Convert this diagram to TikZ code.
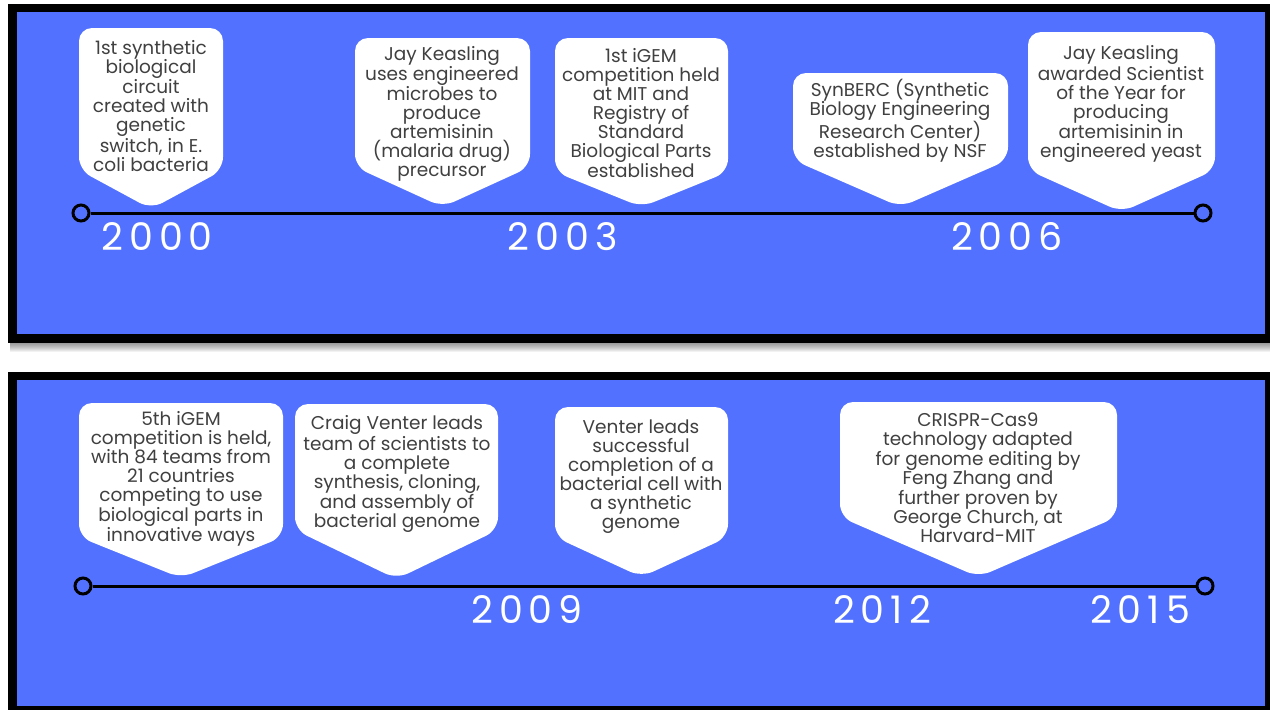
\documentclass[tikz,border=0pt]{standalone}
\usepackage{fontspec}
\setmainfont{Poppins}
\newfontfamily\yearfont{Poppins}[LetterSpace=16]
\definecolor{bg}{HTML}{5271FF}
\definecolor{txt}{HTML}{404040}
\newcommand\tlbubble[5]{%
  \fill[bubble] (#1,#3) -- (#2,#3) -- (#2,#4) -- ({(#1+#2)/2},#5) -- (#1,#4) -- cycle;}
\tikzset{
  panelborder/.style={fill=black},
  panelfill/.style={fill=bg},
  bubble/.style={fill=white, rounded corners=13pt},
  evtext/.style={text=txt, align=center, font=\fontsize{18.5}{19}\selectfont, inner sep=0pt},
  yearlabel/.style={text=white, font=\yearfont\fontsize{38}{38}\selectfont, inner sep=0pt},
  tline/.style={line width=3pt, draw=black},
  tend/.style={circle, draw=black, line width=3pt, fill=bg, minimum size=16pt, inner sep=0pt},
}
\begin{document}
\begin{tikzpicture}[x=1pt,y=-1pt]
\useasboundingbox (0,0) rectangle (1270,710);
\fill[white] (0,0) rectangle (1270,710);
% shadow under top panel
\foreach \i in {1,...,9} \fill[black, opacity=0.05] (10,343) rectangle (1270,343+\i);
% panels
\fill[panelborder] (8,4) rectangle (1272,343);
\fill[panelfill] (17,12) rectangle (1265,334);
\fill[panelborder] (8,372) rectangle (1272,714);
\fill[panelfill] (17,380) rectangle (1265,706);

% ---------- top timeline ----------
\tlbubble{79}{223}{28}{170}{209}
\tlbubble{355}{530}{38}{167}{207}
\tlbubble{555}{728}{38}{172}{207}
\tlbubble{793}{1008}{73}{160}{207}
\tlbubble{1028}{1215}{32}{170}{212}

\node[evtext] (t1) at (151,106) {1st synthetic\\biological\\circuit\\created with\\genetic\\switch, in E.\\coli bacteria};
\node[evtext] (t2) at (442,114) {Jay Keasling\\uses engineered\\microbes to\\produce\\artemisinin\\(malaria drug)\\precursor};
\node[evtext] (t3) at (641,113) {1st iGEM\\competition held\\at MIT and\\Registry of\\Standard\\Biological Parts\\established};
\node[evtext] (t4) at (900,121) {SynBERC (Synthetic\\Biology Engineering\\Research Center)\\established by NSF};
\node[evtext] (t5) at (1121,104) {Jay Keasling\\awarded Scientist\\of the Year for\\producing\\artemisinin in\\engineered yeast};

\node[tend] (s1) at (81,213) {};
\node[tend] (e1) at (1203,213) {};
\draw[tline] (s1) -- (e1);

\node[yearlabel] (y2000) at (157,237) {2000};
\node[yearlabel] (y2003) at (563,237) {2003};
\node[yearlabel] (y2006) at (1007,237) {2006};

% ---------- bottom timeline ----------
\tlbubble{79}{283}{403}{537}{578}
\tlbubble{295}{498}{404}{530}{579}
\tlbubble{555}{728}{407}{537}{577}
\tlbubble{840}{1117}{402}{517}{577}

\node[evtext] (t6) at (181,479) {5th iGEM\\competition is held,\\with 84 teams from\\21 countries\\competing to use\\biological parts in\\innovative ways};
\node[evtext] (t7) at (397,474) {Craig Venter leads\\team of scientists to\\a complete\\synthesis, cloning,\\and assembly of\\bacterial genome};
\node[evtext] (t8) at (641,477) {Venter leads\\successful\\completion of a\\bacterial cell with\\a synthetic\\genome};
\node[evtext] (t9) at (978,478) {CRISPR-Cas9\\technology adapted\\for genome editing by\\Feng Zhang and\\further proven by\\George Church, at\\Harvard-MIT};

\node[tend] (s2) at (83,586) {};
\node[tend] (e2) at (1205,586) {};
\draw[tline] (s2) -- (e2);

\node[yearlabel] (y2009) at (527,610) {2009};
\node[yearlabel] (y2012) at (882,610) {2012};
\node[yearlabel] (y2015) at (1140,610) {2015};
\end{tikzpicture}
\end{document}
